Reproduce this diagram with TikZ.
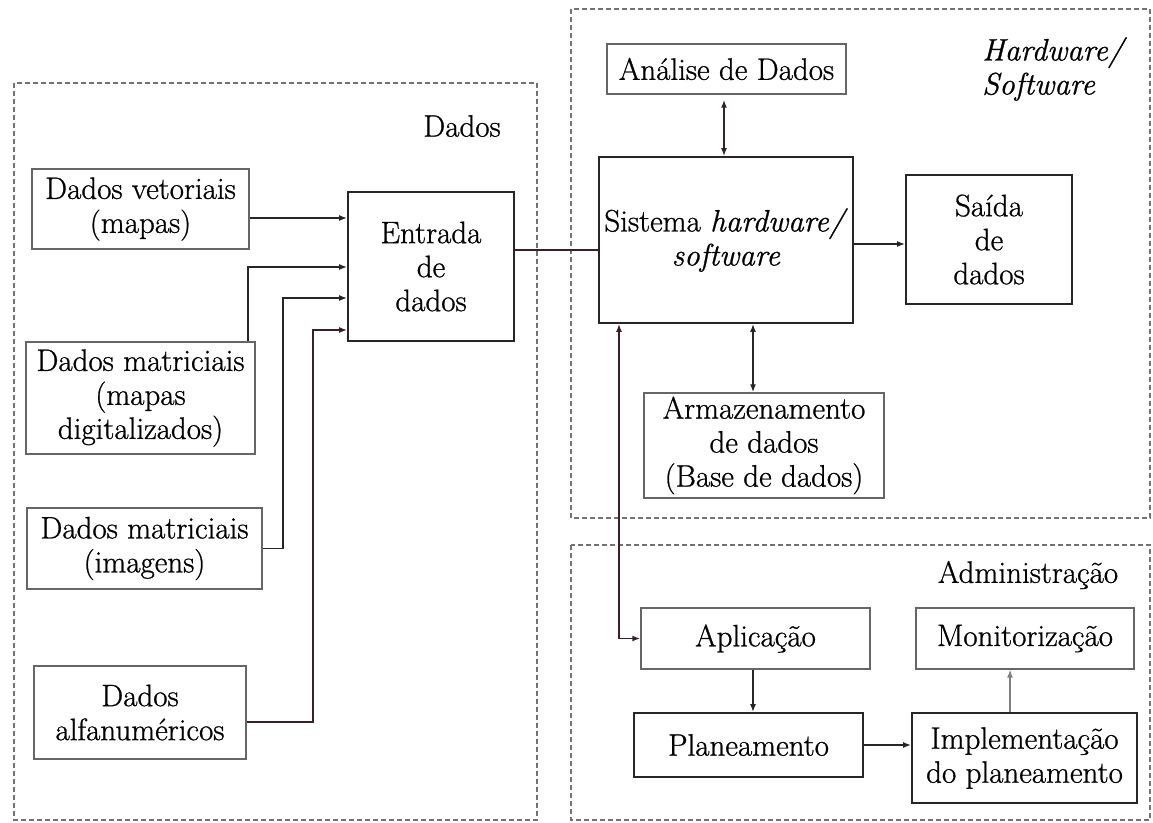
\documentclass[tikz,border=0pt]{standalone}
\usepackage{fontspec}
\setmainfont{Latin Modern Roman}[FakeBold=0.8]
\usetikzlibrary{arrows.meta}
\newcommand\boxfont{\fontsize{31}{34}\selectfont}
\definecolor{linkdark}{RGB}{58,30,40}
\begin{document}
\begin{tikzpicture}[x=1pt,y=-1pt,
  box/.style={draw=black!85, line width=1.7pt, fill=white, align=center,
    inner sep=1pt, font=\boxfont},
  lbox/.style={box, draw=black!60, line width=1.4pt},
  region/.style={draw=black!55, dash pattern=on 5pt off 3pt, line width=1.3pt},
  tip/.tip={Latex[length=8pt,width=6pt]},
  arr/.style={-tip, line width=1.6pt, draw=black!85},
  arrb/.style={tip-tip, line width=1.6pt, draw=black!85},
  label/.style={font=\boxfont, inner sep=0pt}
]
\useasboundingbox (0,0) rectangle (1153,822);

% dashed regions
\draw[region] (14,83) rectangle (537,820);
\draw[region] (571,9) rectangle (1150,518);
\draw[region] (571,545) rectangle (1150,820);

\node[label] (lblDados) at (462,126) {Dados};
\node[label, font=\boxfont\itshape, align=left, anchor=west] (lblHW) at (982,69) {Hardware/\\Software};
\node[label] (lblAdm) at (1028,575) {Administração};

% input data
\node[lbox, minimum width=217pt, minimum height=80pt]  (vet)    at (140.5,209)   {Dados vetoriais\\(mapas)};
\node[lbox, minimum width=229pt, minimum height=112pt] (matmap) at (140.5,398)   {Dados matriciais\\(mapas\\digitalizados)};
\node[lbox, minimum width=235pt, minimum height=81pt]  (matimg) at (144.5,548.5) {Dados matriciais\\(imagens)};
\node[lbox, minimum width=212pt, minimum height=93pt]  (alfa)   at (140,712.5)   {Dados\\alfanuméricos};
\node[box,  minimum width=166pt, minimum height=149pt] (entrada) at (431,266.5)  {Entrada\\de\\dados};

% hardware / software
\node[box,  minimum width=254pt, minimum height=166pt] (sistema) at (726,240)    {Sistema \textit{hardware/}\\\textit{software}};
\node[lbox, minimum width=239pt, minimum height=50pt]  (analise) at (726.5,69)   {Análise de Dados};
\node[box,  minimum width=166pt, minimum height=129pt] (saida)   at (989,239.5)  {Saída\\de\\dados};
\node[lbox, minimum width=240pt, minimum height=105pt] (armaz)   at (764,445.5)  {Armazenamento\\de dados\\(Base de dados)};

% administration
\node[lbox, minimum width=229pt, minimum height=61pt] (aplic) at (755.5,638.5) {Aplicação};
\node[lbox, minimum width=218pt, minimum height=61pt] (monit) at (1025,638.5)  {Monitorização};
\node[box,  minimum width=229pt, minimum height=64pt] (plan)  at (748.5,745)   {Planeamento};
\node[box,  minimum width=225pt, minimum height=90pt] (impl)  at (1024.5,758)  {Implementação\\do planeamento};

% routing points
\coordinate (r1) at (0,218);
\coordinate (m1) at (248,267);
\coordinate (m2) at (283,298);
\coordinate (m3) at (313,330);
\coordinate (r4) at (0,722);
\coordinate (e1) at (0,250);
\coordinate (s1) at (0,244);
\coordinate (xa) at (724,0);
\coordinate (xb) at (753,0);
\coordinate (xc) at (619,0);
\coordinate (xd) at (1010,0);

% inputs into data entry
\draw[arr] (vet.east |- r1) -- (entrada.west |- r1);
\draw[arr] (matmap.north -| m1) |- (entrada.west |- m1);
\draw[arr] (matimg.east) -| (m2) -- (entrada.west |- m2);
\draw[arr, draw=linkdark] (alfa.east |- r4) -| (m3) -- (entrada.west |- m3);

% system links
\draw[line width=1.6pt, draw=linkdark] (entrada.east |- e1) -- (sistema.west |- e1);
\draw[arr] (sistema.east |- s1) -- (saida.west |- s1);
\draw[arrb, draw=linkdark, shorten <=5pt] (analise.south -| xa) -- (sistema.north -| xa);
\draw[arrb] (sistema.south -| xb) -- (armaz.north -| xb);
\draw[arrb, draw=linkdark] (sistema.south -| xc) |- (aplic.west);

% administration flow
\draw[arr] (aplic.south -| xb) -- (plan.north -| xb);
\draw[arr] (plan.east) -- (impl.west |- plan.east);
\draw[arr, draw=black!50, line width=1.1pt] (impl.north -| xd) -- (monit.south -| xd);
\end{tikzpicture}
\end{document}
